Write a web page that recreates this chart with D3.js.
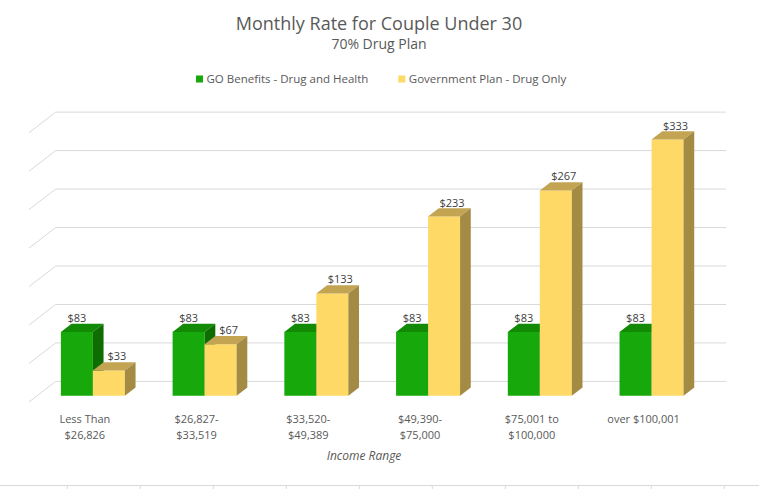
<!DOCTYPE html>
<html>
<head>
<meta charset="utf-8">
<script src="https://cdn.jsdelivr.net/npm/d3@7"></script>
<style>
  html, body { margin: 0; padding: 0; background: #fff; }
  svg { display: block; font-family: "Open Sans", sans-serif; }
</style>
</head>
<body>
<svg id="chart" width="759" height="489"></svg>
<script>
// chart data
const categories = [
  ['Less Than', '$26,826'],
  ['$26,827-', '$33,519'],
  ['$33,520-', '$49,389'],
  ['$49,390-', '$75,000'],
  ['$75,001 to', '$100,000'],
  ['over $100,001']
];
const seriesNames = ['GO Benefits - Drug and Health', 'Government Plan - Drug Only'];
const goValues = [83, 83, 83, 83, 83, 83];
const govValues = [33, 67, 133, 233, 267, 333];
const yTicks = [0, 50, 100, 150, 200, 250, 300, 350];

const width = 759;
const height = 489;
const svg = d3.select('#chart');

svg.append('rect').attr('width', width).attr('height', height).attr('fill', '#fff');

// oblique 3d: front plane + depth vector
const DX = 26.7, DY = 20.6;
const x0 = d3.scaleBand().domain(d3.range(categories.length)).range([29, 699.4]).padding(0);
const x1 = d3.scaleBand().domain([0, 1]).range([-32, 32]);
const y = d3.scaleLinear().domain([0, 350]).range([402, 132.7]);
const P = (x, v, z) => [x + z * DX, y(v) - z * DY];
const poly = pts => 'M' + pts.map(p => p.join(',')).join('L') + 'Z';

// gridlines (side wall + back wall)
const grid = svg.append('g').attr('stroke', '#d9d9d9').attr('stroke-width', 1).attr('fill', 'none');
yTicks.forEach(t => {
  const a = P(x0.range()[0], t, 0), b = P(x0.range()[0], t, 1), c = P(x0.range()[1], t, 1);
  grid.append('path').attr('d', `M${a}L${b}L${c}`);
});

// bars
const colors = [
  { front: '#17a80b', top: '#128a06', side: '#0e6d00' },
  { front: '#ffd966', top: '#c2a453', side: '#a38b44' }
];
const Z0 = 0.3, Z1 = 0.7;
const rows = [];
categories.forEach((c, i) => {
  [goValues[i], govValues[i]].forEach((v, s) => rows.push({ i, s, v }));
});

const bars = svg.append('g');
rows.forEach(d => {
  const cx = x0(d.i) + x0.bandwidth() / 2;
  const xa = cx + x1(d.s), xb = xa + x1.bandwidth();
  const col = colors[d.s];
  const g = bars.append('g');
  g.append('path').attr('fill', col.front)
    .attr('d', poly([P(xa, 0, Z0), P(xb, 0, Z0), P(xb, d.v, Z0), P(xa, d.v, Z0)]));
  g.append('path').attr('fill', col.top)
    .attr('d', poly([P(xa, d.v, Z0), P(xb, d.v, Z0), P(xb, d.v, Z1), P(xa, d.v, Z1)]));
  g.append('path').attr('fill', col.side)
    .attr('d', poly([P(xb, 0, Z0), P(xb, 0, Z1), P(xb, d.v, Z1), P(xb, d.v, Z0)]));
});

// data labels
const labelShift = [0, 8];
svg.append('g').selectAll('text').data(rows).join('text')
  .attr('x', d => P(x0(d.i) + x0.bandwidth() / 2 + x1(d.s) + x1.bandwidth() / 2, d.v, Z0)[0] + labelShift[d.s])
  .attr('y', d => P(0, d.v, Z0)[1] - 10)
  .attr('text-anchor', 'middle')
  .attr('font-size', 11)
  .attr('fill', '#404040')
  .text(d => '$' + d.v);

// category labels
const cat = svg.append('g').attr('fill', '#595959').attr('font-size', 11).attr('text-anchor', 'middle');
categories.forEach((lines, i) => {
  const t = cat.append('text').attr('x', x0(i) + x0.bandwidth() / 2).attr('y', 423);
  lines.forEach((l, k) => t.append('tspan').attr('x', x0(i) + x0.bandwidth() / 2).attr('dy', k ? 16 : 0).text(l));
});

// axis title
svg.append('text')
  .attr('x', 364).attr('y', 460)
  .attr('text-anchor', 'middle')
  .attr('font-size', 12).attr('font-style', 'italic')
  .attr('fill', '#595959')
  .text('Income Range');

// title
svg.append('text').attr('x', 379).attr('y', 30).attr('text-anchor', 'middle')
  .attr('font-size', 18).attr('fill', '#595959').text('Monthly Rate for Couple Under 30');
svg.append('text').attr('x', 379).attr('y', 49).attr('text-anchor', 'middle')
  .attr('font-size', 14).attr('fill', '#595959').text('70% Drug Plan');

// legend
const legendX = [196, 398.3];
const legend = svg.append('g');
seriesNames.forEach((name, s) => {
  legend.append('rect').attr('x', legendX[s]).attr('y', 75.5).attr('width', 7).attr('height', 7).attr('fill', colors[s].front);
  legend.append('text').attr('x', legendX[s] + 10.5).attr('y', 83)
    .attr('font-size', 11.5).attr('fill', '#595959').text(name);
});

// sheet cell borders under the chart
const cells = svg.append('g').attr('stroke', '#d9d9d9').attr('stroke-width', 1);
cells.append('line').attr('x1', 0).attr('x2', width).attr('y1', 485.5).attr('y2', 485.5);
d3.range(67.3, width, 73).forEach(x => {
  cells.append('line').attr('x1', x).attr('x2', x).attr('y1', 485.5).attr('y2', height);
});
</script>
</body>
</html>
